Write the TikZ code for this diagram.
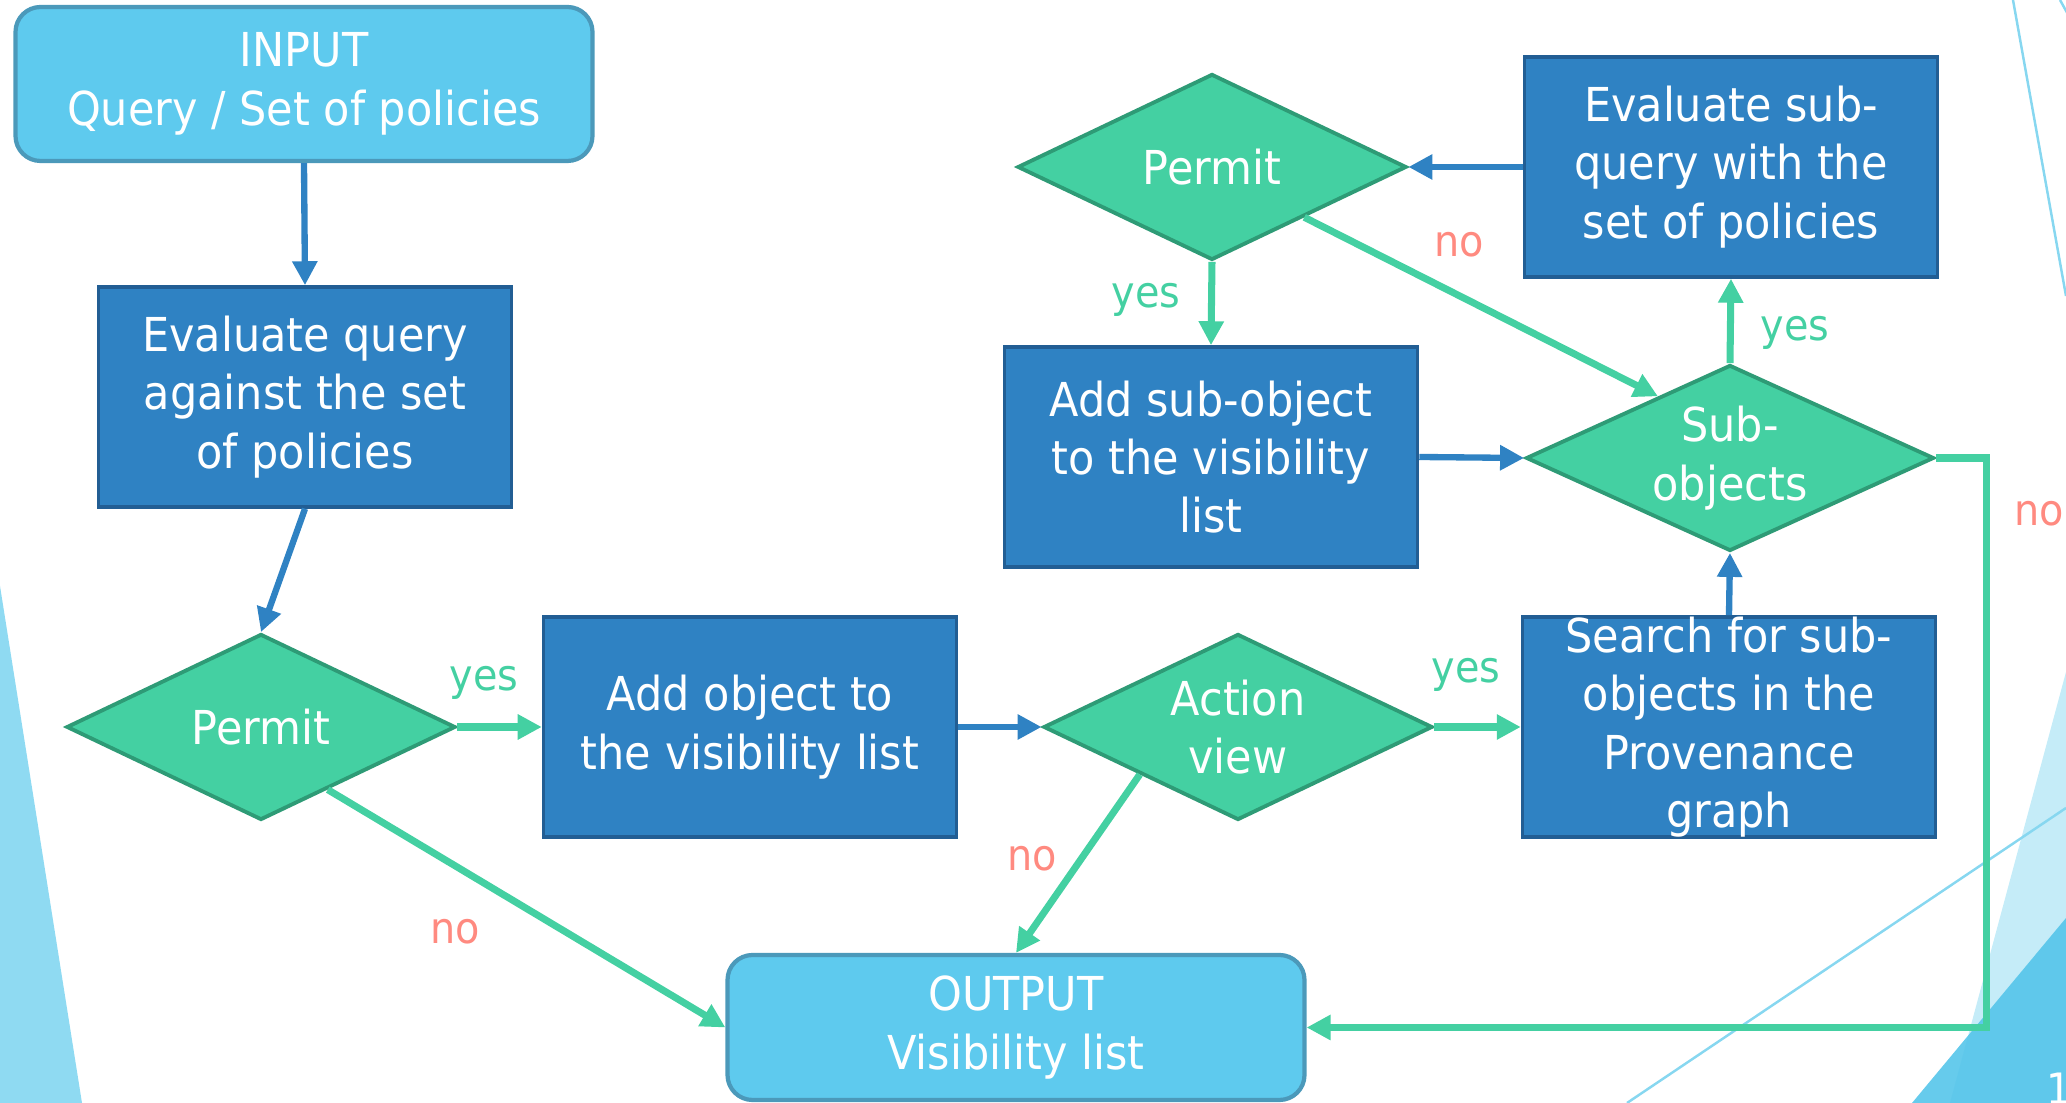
\documentclass[tikz,border=0pt]{standalone}
\usepackage{fontspec}
\setmainfont{DejaVu Sans}[FakeStretch=0.92]
\usetikzlibrary{arrows.meta,shapes.geometric,calc}

\definecolor{iofill}{HTML}{5ECAEE}
\definecolor{ioline}{HTML}{4B99BA}
\definecolor{procfill}{HTML}{2F82C3}
\definecolor{procline}{HTML}{225E94}
\definecolor{decfill}{HTML}{44D0A2}
\definecolor{decline}{HTML}{2E9B76}
\definecolor{nored}{HTML}{FF8A80}
\definecolor{decoA}{HTML}{8FDAF2}
\definecolor{decoB}{HTML}{C5ECF8}
\definecolor{decoC}{HTML}{55C5EA}
\definecolor{decoline}{HTML}{87D7F0}

\newcommand{\flowfont}{\fontsize{13.3}{16.6}\selectfont}
\newcommand{\tagfont}{\fontsize{12.3}{14}\selectfont}

\tikzset{
  terminal/.style={rectangle,rounded corners=0.25cm,draw=ioline,fill=iofill,line width=1.2pt,text=white,align=center,font=\flowfont,minimum width=5.77cm,inner sep=0pt},
  process/.style={rectangle,draw=procline,fill=procfill,line width=1pt,text=white,align=center,font=\flowfont,minimum width=4.13cm,minimum height=2.2cm,inner sep=0pt},
  decision/.style={diamond,shape aspect=2.1,draw=decline,fill=decfill,line width=1.1pt,text=white,align=center,font=\flowfont,minimum width=3.89cm,minimum height=1.86cm,inner sep=0pt},
  blueflow/.style={draw=procfill,line width=1.8pt,-{Triangle[length=0.24cm,width=0.24cm]}},
  greenflow/.style={draw=decfill,line width=2pt,-{Triangle[length=0.24cm,width=0.24cm]}},
  yestag/.style={text=decfill,font=\tagfont},
  notag/.style={text=nored,font=\tagfont},
}

\begin{document}
\begin{tikzpicture}
        \useasboundingbox (0,0) rectangle (20.66,11.03);
        \clip (0,0) rectangle (20.66,11.03);
        %背景装饰
        \fill[decoA] (0,5.17) -- (0.82,0) -- (0,0) -- cycle;
        \fill[decoB] (20.66,4.31) -- (19.50,0) -- (20.66,0) -- cycle;
        \fill[decoC,fill opacity=0.9] (20.66,1.85) -- (19.12,0) -- (20.66,0) -- cycle;
        \draw[decoline,line width=0.7pt] (16.27,0) -- (20.66,2.95);
        \draw[decoline,line width=0.7pt] (20.13,11.03) -- (20.66,8.07);
        \draw[decoline,line width=0.7pt] (20.60,11.03) -- (20.70,10.85);
        \node[text=white,font=\tagfont,anchor=base west,inner sep=0pt] (pagenum) at (20.46,-0.02) {10};
        %节点
        \node[terminal,minimum height=1.54cm] (input) at (3.04,10.19) {INPUT\\Query / Set of policies};
        \node[process] (evalq) at (3.05,7.06) {Evaluate query\\against the set\\of policies};
        \node[decision] (permA) at (2.61,3.76) {Permit};
        \node[process] (addobj) at (7.50,3.76) {Add object to\\the visibility list};
        \node[decision] (action) at (12.38,3.76) {Action\\view};
        \node[process] (search) at (17.29,3.76) {Search for sub-\\objects in the\\Provenance\\graph};
        \node[decision,minimum width=4.08cm] (subobj) at (17.30,6.45) {Sub-\\objects};
        \node[process] (evalsub) at (17.31,9.36) {Evaluate sub-\\query with the\\set of policies};
        \node[decision] (permB) at (12.12,9.36) {Permit};
        \node[process] (addsub) at (12.11,6.46) {Add sub-object\\to the visibility\\list};
        \node[terminal,minimum height=1.45cm] (output) at (10.16,0.755) {OUTPUT\\Visibility list};
        %连线
        \draw[blueflow] (input.south) -- (evalq.north);
        \draw[blueflow] (evalq.south) -- (permA.north);
        \draw[greenflow] (permA.east) -- (addobj.west);
        \draw[blueflow] (addobj.east) -- (action.west);
        \draw[greenflow] (action.east) -- (search.west);
        \draw[blueflow] (search.north) -- (subobj.south);
        \draw[greenflow] (subobj.north) -- (evalsub.south);
        \draw[blueflow] (evalsub.west) -- (permB.east);
        \draw[greenflow] (permB.south) -- (addsub.north);
        \draw[blueflow] (addsub.east) -- (subobj.west);
        \draw[greenflow] ($(permB.east)!0.53!(permB.south)$) -- ($(subobj.west)!0.65!(subobj.north)$);
        \draw[greenflow] ($(permA.east)!0.66!(permA.south)$) -- (output.west);
        \draw[greenflow] (action.south west) -- (output.north);
        \draw[greenflow] (subobj.east) -- ++(0.51,0) |- (output.east);
        %标注
        \node[yestag] (yesA) at (4.84,4.20) {yes};
        \node[yestag] (yesB) at (14.66,4.28) {yes};
        \node[yestag] (yesC) at (17.95,7.70) {yes};
        \node[yestag] (yesD) at (11.46,8.03) {yes};
        \node[notag] (noA) at (14.59,8.58) {no};
        \node[notag] (noB) at (4.55,1.71) {no};
        \node[notag] (noC) at (10.32,2.44) {no};
        \node[notag] (noD) at (20.39,5.89) {no};
\end{tikzpicture}
\end{document}
